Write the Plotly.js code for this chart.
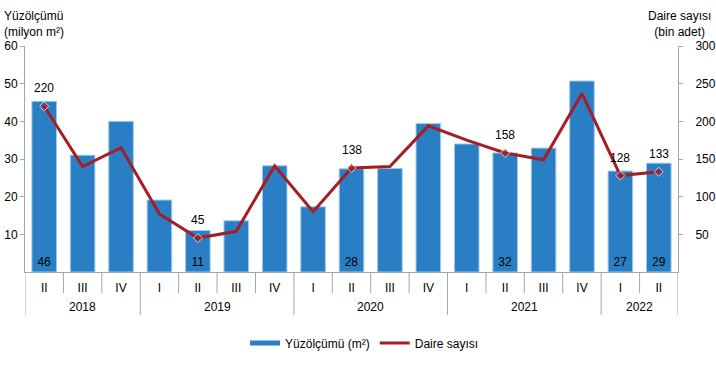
<!DOCTYPE html>
<html>
<head>
<meta charset="utf-8">
<script src="https://cdn.plot.ly/plotly-3.0.1.min.js"></script>
<style>html,body{margin:0;padding:0;background:#fff;}#chart{width:716px;height:376px;}</style>
</head>
<body>
<div id="chart"></div>
<script>
const years = ["2018","2018","2018","2019","2019","2019","2019","2020","2020","2020","2020","2021","2021","2021","2021","2022","2022"];
const quarters = ["II","III","IV","I","II","III","IV","I","II","III","IV","I","II","III","IV","I","II"];
const area = [45.3, 31.0, 40.0, 19.1, 11.0, 13.6, 28.2, 17.3, 27.4, 27.5, 39.4, 34.0, 31.6, 32.9, 50.7, 26.8, 28.9];
const areaLabels = ["46","","","","11","","","","28","","","","32","","","27","29"];
const units = [220, 140, 165, 77, 45, 54, 141, 80, 138, 140, 194, 175, 158, 149, 237, 128, 133];
const unitLabels = ["220","","","","45","","","","138","","","","158","","","128","133"];

const fontFam = '"Liberation Sans", Arial, sans-serif';
const idx = quarters.map((q, i) => i);
const markerSizes = unitLabels.map(t => t === "" ? 0 : 7);
const axisGrey = '#A6A6A6';
const blue = '#2A7EC3';
const red = '#A31F24';

// dividers and year labels derived from the category arrays
const shapes = [];
const annotations = [];
const n = years.length;
for (let i = 1; i < n; i++) {
  if (years[i] === years[i - 1]) {
    shapes.push({type: 'line', xref: 'x', yref: 'paper', x0: i - 0.5, x1: i - 0.5, y0: 0, y1: -0.093,
                 line: {color: axisGrey, width: 1}});
  }
}
let start = 0;
for (let i = 1; i <= n; i++) {
  if (i === n || years[i] !== years[start]) {
    annotations.push({xref: 'x', yref: 'paper', x: (start + i - 1) / 2, y: -0.155, text: years[start],
                      showarrow: false, xanchor: 'center', yanchor: 'middle', font: {size: 12, family: fontFam}});
    start = i;
  }
}
for (let i = 0; i <= n; i++) {
  if (i === 0 || i === n || years[i] !== years[i - 1]) {
    shapes.push({type: 'line', xref: 'x', yref: 'paper', x0: i - 0.5, x1: i - 0.5, y0: 0, y1: -0.19,
                 line: {color: axisGrey, width: 1}});
  }
}
// line value labels
unitLabels.forEach((t, i) => {
  if (t !== "") {
    annotations.push({xref: 'x', yref: 'y2', x: i, y: units[i], text: t, showarrow: false,
                      xanchor: 'center', yanchor: 'bottom', yshift: 9, font: {size: 12, family: fontFam}});
  }
});
annotations.push(
  {xref: 'paper', yref: 'paper', x: -0.035, y: 1.02, xanchor: 'left', yanchor: 'bottom', align: 'left',
   text: 'Yüzölçümü<br>(milyon m²)', showarrow: false, font: {size: 12, family: fontFam}},
  {xref: 'paper', yref: 'paper', x: 1.053, y: 1.02, xanchor: 'right', yanchor: 'bottom', align: 'center',
   text: 'Daire sayısı<br>(bin adet)', showarrow: false, font: {size: 12, family: fontFam}}
);

const traces = [
  {
    type: 'bar', name: 'Yüzölçümü (m²)', showlegend: false,
    x: idx, y: area, width: 0.64,
    text: areaLabels, textposition: 'inside', insidetextanchor: 'start',
    textfont: {color: '#000', size: 12, family: fontFam},
    marker: {color: blue, line: {color: '#9CCBEB', width: 1}},
    cliponaxis: false, hoverinfo: 'skip'
  },
  {
    type: 'scatter', name: 'Daire sayısı', mode: 'lines+markers', showlegend: false,
    x: idx, y: units, yaxis: 'y2',
    line: {color: red, width: 3},
    marker: {symbol: 'diamond', size: markerSizes, color: red},
    cliponaxis: false, hoverinfo: 'skip'
  },
  // legend entries (no data drawn)
  {
    type: 'scatter', name: 'Yüzölçümü (m²)', mode: 'lines',
    x: [null], y: [null], line: {color: blue, width: 5}, hoverinfo: 'skip'
  },
  {
    type: 'scatter', name: 'Daire sayısı', mode: 'lines',
    x: [null], y: [null], line: {color: red, width: 3}, hoverinfo: 'skip'
  }
];

const layout = {
  width: 716, height: 376,
  margin: {l: 25, r: 38, t: 46, b: 104},
  paper_bgcolor: '#fff', plot_bgcolor: '#fff',
  font: {family: fontFam, size: 12, color: '#000'},
  showlegend: true,
  legend: {orientation: 'h', x: 0.52, xanchor: 'center', y: -0.314, yanchor: 'middle',
           font: {size: 12, family: fontFam}, traceorder: 'normal'},
  xaxis: {
    range: [-0.5, n - 0.5], tickvals: idx, ticktext: quarters,
    showline: true, linecolor: axisGrey, linewidth: 1, ticks: '', ticklabelstandoff: 5,
    showgrid: false, zeroline: false,
    tickfont: {size: 12, family: fontFam}
  },
  yaxis: {
    range: [0, 60], tickvals: [10, 20, 30, 40, 50, 60],
    showline: true, linecolor: axisGrey, linewidth: 1,
    ticks: 'outside', ticklen: 4, tickcolor: axisGrey,
    showgrid: false, zeroline: false,
    tickfont: {size: 12, family: fontFam}
  },
  yaxis2: {
    range: [0, 300], tickvals: [50, 100, 150, 200, 250, 300],
    overlaying: 'y', side: 'right',
    showline: true, linecolor: axisGrey, linewidth: 1,
    ticks: 'outside', ticklen: 4, tickcolor: axisGrey, ticklabelstandoff: 10,
    showgrid: false, zeroline: false,
    tickfont: {size: 12, family: fontFam}
  },
  shapes: shapes,
  annotations: annotations
};

Plotly.newPlot('chart', traces, layout, {displayModeBar: false, staticPlot: true});
</script>
</body>
</html>
